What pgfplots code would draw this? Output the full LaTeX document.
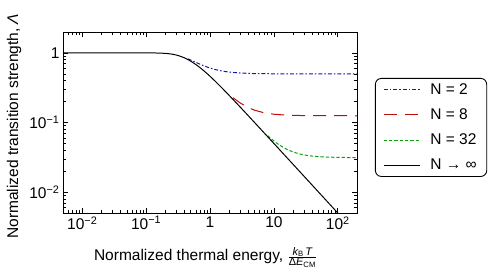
\documentclass[border=0pt]{standalone}
\usepackage{fontspec}
\setmainfont{Liberation Sans}
\usepackage{pgfplots}
\pgfplotsset{compat=1.18}
\definecolor{cblue}{RGB}{20,20,190}
\definecolor{cred}{RGB}{190,10,10}
\definecolor{cgreen}{RGB}{10,160,10}
\begin{document}
\begin{tikzpicture}
\begin{axis}[
  scale only axis, width=294bp, height=181bp,
  xmode=log, ymode=log,
  xmin=0.005, xmax=200, ymin=0.005, ymax=2,
  font=\fontsize{15.5bp}{18bp}\selectfont,
  /pgf/number format/assume math mode=true,
  xtick={0.01,0.1,1,10,100},
  xticklabels={10\textsuperscript{−2},10\textsuperscript{−1},1,10,10\textsuperscript{2}},
  ytick={0.01,0.1,1},
  yticklabels={10\textsuperscript{−2},10\textsuperscript{−1},1},
  minor xtick={0.005,0.006,0.007,0.008,0.009,0.02,0.03,0.04,0.05,0.06,0.07,0.08,0.09,0.2,0.3,0.4,0.5,0.6,0.7,0.8,0.9,2,3,4,5,6,7,8,9,20,30,40,50,60,70,80,90,200},
  minor ytick={0.005,0.006,0.007,0.008,0.009,0.02,0.03,0.04,0.05,0.06,0.07,0.08,0.09,0.2,0.3,0.4,0.5,0.6,0.7,0.8,0.9,2},
  tick pos=both, tick align=inside,
  major tick length=5bp, minor tick length=3bp,
  every tick/.style={black, line width=0.6pt},
  axis line style={line width=0.9pt},
  xlabel={Normalized thermal energy, \ensuremath{\frac{\mbox{\fontsize{11bp}{11bp}\selectfont\itshape k\textsubscript{\upshape B}\,T}}{\mbox{\fontsize{11bp}{11bp}\selectfont Δ\itshape E\textsubscript{\upshape CM}}}}},
  xlabel style={anchor=base, at={(axis description cs:0.485,-0.265)}},
  ylabel={Normalized transition strength, \textit{Λ}},
  ylabel style={anchor=base, at={(axis description cs:-0.153,0.48)}},
  legend style={at={(axis description cs:1.061,0.746)}, anchor=north west,
    draw=black, line width=0.9pt, rounded corners=6bp,
    font=\fontsize{15.5bp}{18bp}\selectfont, row sep=9bp, inner xsep=8bp, inner ysep=3bp,
    /tikz/every odd column/.append style={column sep=8bp}},
  legend cell align=left,
  legend image code/.code={\draw[#1] (0bp,0bp) -- (36bp,0bp);},
]
\addplot[cblue, line width=1pt, dash pattern=on 4bp off 2bp on 1.5bp off 2bp] coordinates {
(0.45,0.8236)(0.5,0.79001)(0.6,0.73274)(0.7,0.68810)(0.8,0.65379)(0.9,0.62735)(1,0.60678)(1.2,0.57767)(1.5,0.55168)(2,0.52999)(3,0.51364)(5,0.50497)(10,0.50125)(20,0.50031)(50,0.5001)(200,0.5)};
\addlegendentry{N = 2}
\addplot[cred, line width=1pt, dash pattern=on 13bp off 8bp] coordinates {
(2.3,0.22766)(2.5,0.21415)(3,0.18980)(4,0.16328)(5,0.15009)(7,0.13808)(10,0.13149)(15,0.12790)(20,0.12664)(30,0.12573)(50,0.12526)(100,0.125063)(200,0.125016)};
\addlegendentry{N = 8}
\addplot[cgreen, line width=1pt, dash pattern=on 3.3bp off 2bp] coordinates {
(8,0.064748)(10,0.054204)(12,0.047862)(15,0.042276)(20,0.037641)(25,0.035399)(30,0.034155)(40,0.032897)(50,0.032309)(70,0.031792)(100,0.031516)(150,0.031369)(200,0.031317)};
\addlegendentry{N = 32\hspace{4bp}}
\addplot[black, line width=1pt] coordinates {
(0.005,1)(0.05,1)(0.1,0.99991)(0.12,0.99952)(0.15,0.99746)(0.2,0.98661)(0.25,0.96403)(0.3,0.93110)(0.35,0.89155)(0.4,0.84828)(0.45,0.80443)(0.5,0.76159)(0.6,0.68226)(0.7,0.61336)(0.8,0.55460)(0.9,0.50467)(1,0.46212)(1.2,0.39413)(1.5,0.32151)(2,0.24492)(3,0.16514)(5,0.09967)(10,0.04996)(20,0.025)(50,0.01)(100,0.005)(200,0.0025)};
\addlegendentry{N → ∞\hspace{4bp}}
\end{axis}
\pgfresetboundingbox
\path (current axis.south west) ++(-63bp,-62bp) rectangle ++(498bp,275bp);
\end{tikzpicture}
\end{document}
